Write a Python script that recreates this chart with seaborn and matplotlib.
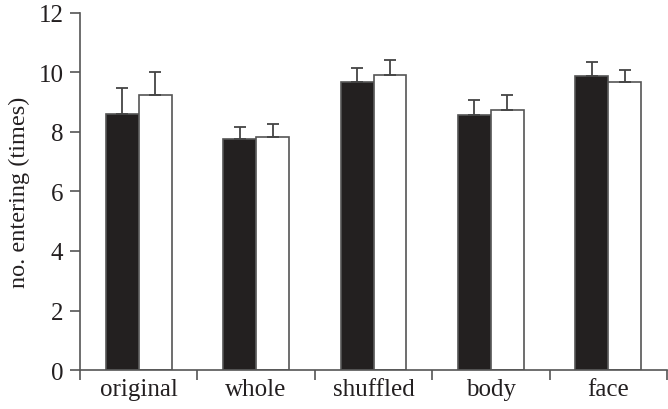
import numpy as np
import pandas as pd
import matplotlib
matplotlib.use("Agg")
import matplotlib.pyplot as plt
import seaborn as sns
from matplotlib.ticker import FixedLocator

# Data
categories = ["original", "whole", "shuffled", "body", "face"]
groups = ["black", "white"]
black_means = [8.60, 7.75, 9.69, 8.56, 9.89]
white_means = [9.24, 7.82, 9.90, 8.73, 9.67]
black_err = [0.87, 0.42, 0.47, 0.52, 0.47]
white_err = [0.78, 0.45, 0.53, 0.50, 0.40]

df = pd.DataFrame({
    "category": categories * 2,
    "group": [groups[0]] * 5 + [groups[1]] * 5,
    "value": black_means + white_means,
    "err": black_err + white_err,
})

sns.set_theme(style="ticks")
plt.rcParams["font.family"] = ["Liberation Serif", "DejaVu Serif"]

axis_col = "#555555"
fig = plt.figure(figsize=(6.68, 4.10), dpi=100)
ax = fig.add_axes([0.1198, 0.0951, 0.8787, 0.8708])

sns.barplot(
    data=df, x="category", y="value", hue="group",
    order=categories, hue_order=groups,
    palette={"black": "#231f20", "white": "white"},
    width=0.56, errorbar=None, legend=False,
    edgecolor=axis_col, linewidth=1.2, ax=ax,
)

# upward-only error bars on each bar
for bar, (_, row) in zip(ax.patches, df.iterrows()):
    xc = bar.get_x() + bar.get_width() / 2
    ax.errorbar(xc, row["value"], yerr=[[0], [row["err"]]],
                fmt="none", ecolor="#444444", elinewidth=1.3,
                capsize=4, capthick=1.3, zorder=1)

ax.set_xlim(-0.5, len(categories) - 0.5)
ax.set_ylim(0, 12)
ax.set_yticks(range(0, 13, 2))
ax.set_xlabel("")
ax.set_ylabel("no. entering (times)", fontsize=17.5, color="#231f20", labelpad=6)

ax.xaxis.set_minor_locator(FixedLocator(np.arange(-0.5, len(categories), 1.0)))
ax.tick_params(axis="x", which="major", length=0, labelsize=18,
               labelcolor="#231f20", pad=6)
ax.tick_params(axis="x", which="minor", length=7, width=1.2,
               color=axis_col, direction="out")
ax.tick_params(axis="y", length=7, width=1.2, color=axis_col,
               labelsize=18, labelcolor="#231f20", pad=5)

sns.despine(ax=ax)
for s in ["left", "bottom"]:
    ax.spines[s].set_color(axis_col)
    ax.spines[s].set_linewidth(1.2)

fig.savefig("out.png", dpi=100)
